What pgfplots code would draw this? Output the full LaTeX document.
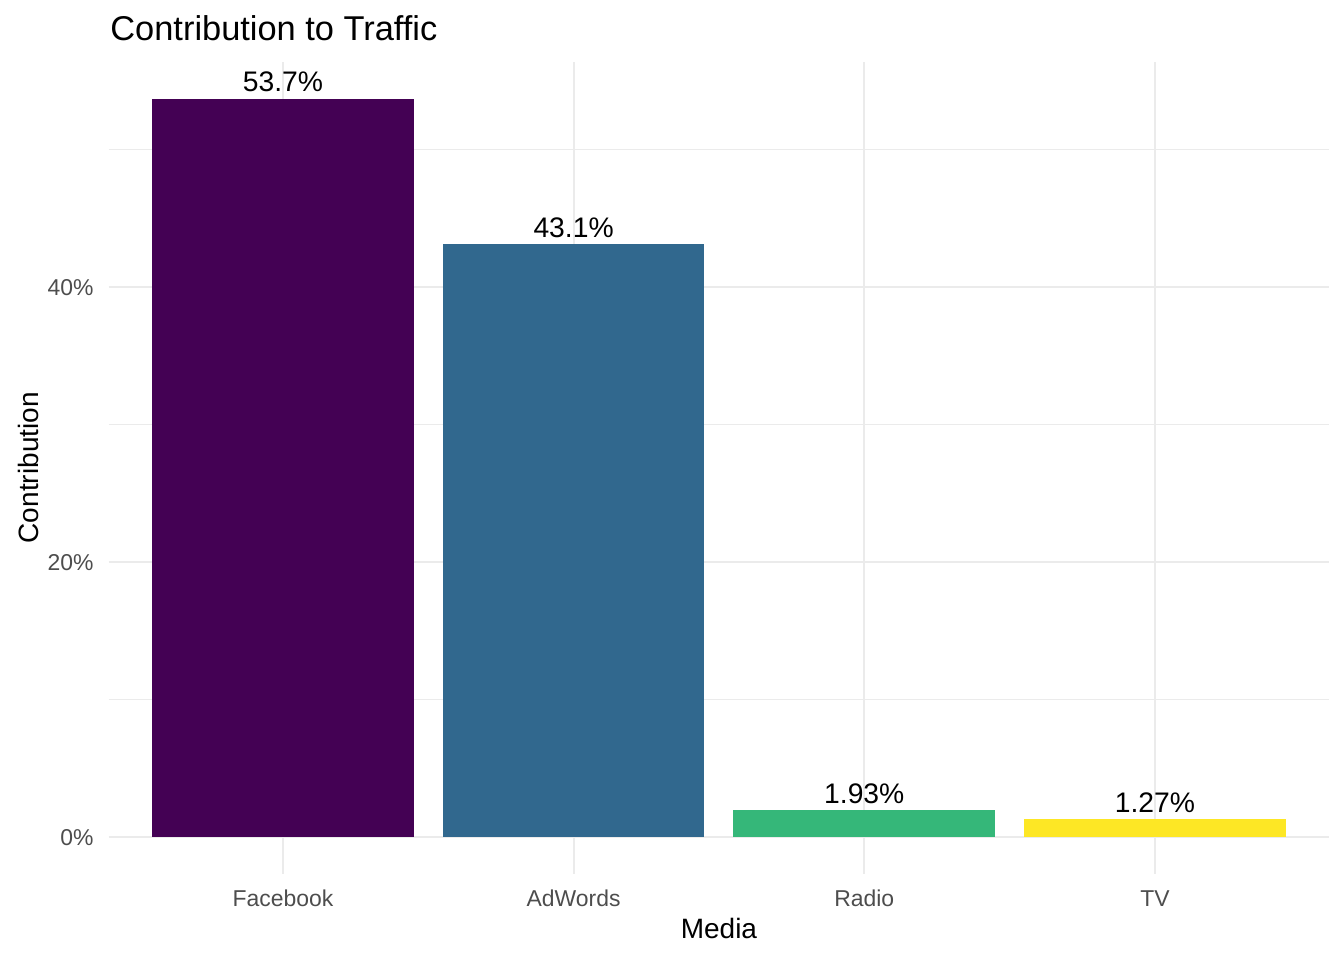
\documentclass[border=0pt]{standalone}
\usepackage{pgfplots}
\pgfplotsset{compat=1.18}
\usepackage{fontspec}
\setmainfont{Liberation Sans}
\definecolor{vA}{HTML}{440154}
\definecolor{vB}{HTML}{31688E}
\definecolor{vC}{HTML}{35B779}
\definecolor{vD}{HTML}{FDE725}
\definecolor{gridc}{HTML}{EBEBEB}
\definecolor{tickc}{HTML}{4D4D4D}
\begin{document}
\begin{tikzpicture}
\path[use as bounding box] (-40.7pt,-32.25pt) rectangle (463.3pt,327.7pt);
\begin{axis}[
  at={(0pt,0pt)}, anchor=south west,
  scale only axis, width=457.8pt, height=304.6pt,
  xmin=0.4, xmax=4.6, ymin=-2.685, ymax=56.385,
  axis line style={draw=none},
  major tick length=0pt, minor tick length=0pt,
  xtick={1,2,3,4}, xticklabels={Facebook,AdWords,Radio,TV},
  ytick={0,20,40}, yticklabels={0\%,20\%,40\%},
  minor ytick={10,30,50},
  xmajorgrids, ymajorgrids, yminorgrids,
  major grid style={draw=gridc, line width=0.7pt},
  minor grid style={draw=gridc, line width=0.35pt},
  tick label style={font=\fontsize{8.6}{10}\selectfont, text=tickc, inner sep=0pt},
  xticklabel style={anchor=base, yshift=-12.2pt},
  yticklabel style={anchor=base east, xshift=-5.4pt, yshift=-3.3pt},
  ybar, bar width=0.9, bar shift=0pt,
  nodes near coords, point meta=explicit symbolic,
  every node near coord/.style={anchor=base, yshift=2.5pt, inner sep=0pt, text=black, font=\fontsize{10.6}{12}\selectfont},
  clip=false,
]
\addplot[draw=none, fill=vA] table[meta=lab] {
x y lab
1 53.7 53.7\%
};
\addplot[draw=none, fill=vB] table[meta=lab] {
x y lab
2 43.1 43.1\%
};
\addplot[draw=none, fill=vC] table[meta=lab] {
x y lab
3 1.93 1.93\%
};
\addplot[draw=none, fill=vD] table[meta=lab] {
x y lab
4 1.27 1.27\%
};
\end{axis}
\node[anchor=base west, inner sep=0pt, font=\fontsize{12.9}{15}\selectfont] at (0.5pt,312.7pt) {Contribution to Traffic};
\node[anchor=base, inner sep=0pt, font=\fontsize{10.5}{12}\selectfont] at (228.9pt,-24.4pt) {Media};
\node[rotate=90, inner sep=0pt, font=\fontsize{10.5}{12}\selectfont] at (-30.2pt,152.3pt) {Contribution};
\end{tikzpicture}
\end{document}
